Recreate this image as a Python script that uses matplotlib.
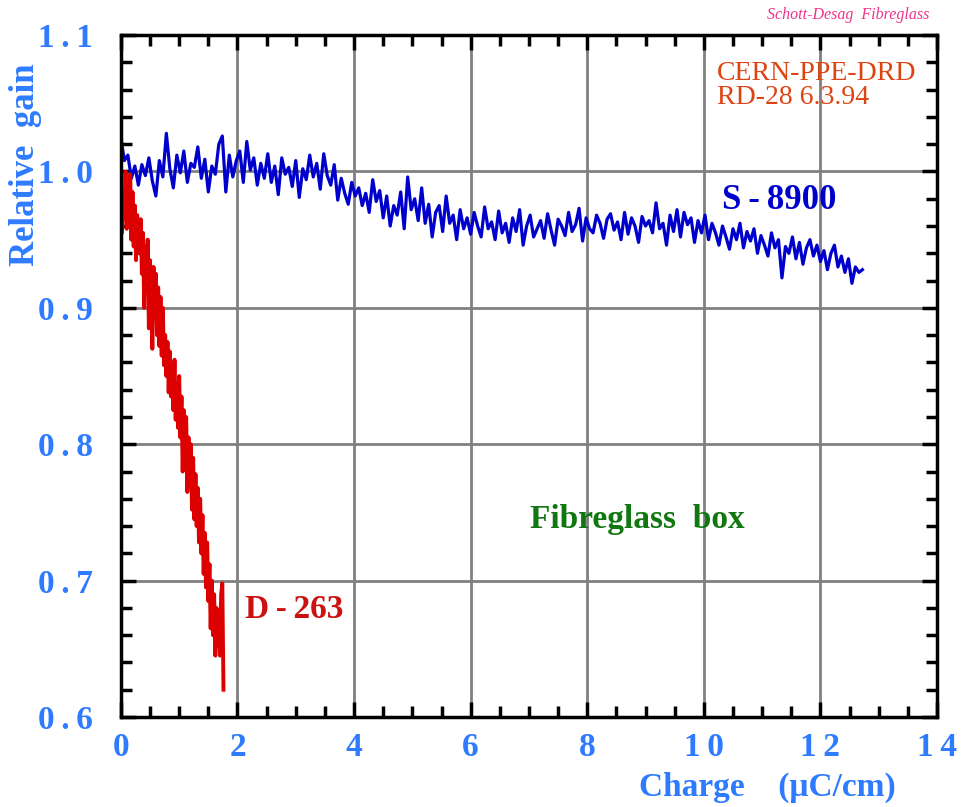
import numpy as np
import matplotlib.pyplot as plt
from matplotlib.ticker import MultipleLocator

# ---- data ----
# S-8900 glass: relative gain, sampled every 0.06 uC/cm from 0
s8900_step = 0.06
s8900_gain = [
    1.025, 1.008, 1.012, 0.995, 1.004, 0.990, 1.005, 0.997, 1.010, 0.993,
    0.982, 1.008, 0.996, 1.028, 1.002, 0.988, 1.012, 0.999, 1.015, 0.992,
    1.006, 1.003, 1.018, 0.995, 1.009, 0.985, 1.004, 0.998, 1.020, 1.026,
    0.985, 1.012, 0.996, 1.008, 1.015, 0.992, 1.022, 1.001, 1.010, 0.990,
    1.006, 0.995, 1.013, 0.992, 1.004, 0.983, 1.010, 0.998, 1.003, 0.989,
    1.008, 0.981, 1.002, 0.994, 1.012, 0.996, 1.006, 0.987, 1.013, 0.997,
    0.990, 1.005, 0.979, 0.995, 0.984, 0.976, 0.992, 0.982, 0.988, 0.975,
    0.984, 0.970, 0.994, 0.978, 0.986, 0.966, 0.982, 0.960, 0.975, 0.968,
    0.985, 0.958, 0.996, 0.972, 0.980, 0.964, 0.988, 0.962, 0.976, 0.952,
    0.970, 0.975, 0.956, 0.982, 0.962, 0.968, 0.950, 0.972, 0.958, 0.966,
    0.954, 0.970, 0.960, 0.952, 0.974, 0.958, 0.963, 0.950, 0.971, 0.955,
    0.962, 0.948, 0.966, 0.956, 0.972, 0.946, 0.960, 0.968, 0.952, 0.958,
    0.964, 0.951, 0.969, 0.957, 0.946, 0.965, 0.960, 0.953, 0.970, 0.956,
    0.961, 0.973, 0.949, 0.966, 0.958, 0.955, 0.968, 0.962, 0.951, 0.965,
    0.969, 0.957, 0.963, 0.950, 0.970, 0.954, 0.966, 0.960, 0.948, 0.967,
    0.960, 0.964, 0.955, 0.977, 0.958, 0.962, 0.946, 0.968, 0.956, 0.972,
    0.952, 0.970, 0.961, 0.966, 0.948, 0.964, 0.955, 0.968, 0.950, 0.962,
    0.955, 0.946, 0.960, 0.952, 0.943, 0.958, 0.950, 0.962, 0.944, 0.956,
    0.949, 0.958, 0.940, 0.953, 0.946, 0.938, 0.955, 0.944, 0.950, 0.922,
    0.945, 0.940, 0.952, 0.936, 0.948, 0.932, 0.944, 0.950, 0.938, 0.946,
    0.934, 0.942, 0.928, 0.940, 0.946, 0.930, 0.938, 0.926, 0.936, 0.918,
    0.930, 0.926, 0.928,
]

# D-263 glass: relative gain, sampled every 0.02 uC/cm from 0
d263_step = 0.02
d263_gain = [
    0.995, 0.955, 0.985, 0.965, 1.000, 0.958, 0.990, 0.962, 0.998, 0.950,
    0.985, 0.945, 0.975, 0.935, 0.968, 0.950, 0.940, 0.965, 0.925, 0.955,
    0.900, 0.945, 0.915, 0.950, 0.885, 0.935, 0.910, 0.870, 0.930, 0.895,
    0.925, 0.880, 0.915, 0.872, 0.908, 0.865, 0.900, 0.858, 0.880, 0.850,
    0.875, 0.838, 0.868, 0.835, 0.858, 0.825, 0.862, 0.818, 0.845, 0.812,
    0.850, 0.805, 0.835, 0.780, 0.825, 0.790, 0.820, 0.765, 0.805, 0.778,
    0.800, 0.752, 0.790, 0.745, 0.778, 0.740, 0.768, 0.728, 0.760, 0.720,
    0.748, 0.705, 0.735, 0.695, 0.728, 0.685, 0.712, 0.665, 0.700, 0.660,
    0.690, 0.645, 0.680, 0.652, 0.675, 0.645, 0.690, 0.698, 0.620,
]

x_ticks = [0, 2, 4, 6, 8, 10, 12, 14]
x_ticklabels = ['0', '2', '4', '6', '8', '1\u20090', '1\u20092', '1\u20094']
y_ticks = [0.6, 0.7, 0.8, 0.9, 1.0, 1.1]
y_ticklabels = ['0\u2009.\u20096', '0\u2009.\u20097', '0\u2009.\u20098',
                '0\u2009.\u20099', '1\u2009.\u20090', '1\u2009.\u20091']

s8900_x = np.arange(len(s8900_gain)) * s8900_step
d263_x = np.arange(len(d263_gain)) * d263_step

serif = 'Liberation Serif'
tick_blue = '#2f7bff'

fig = plt.figure(figsize=(9.67, 8.07), dpi=100)
ax = fig.add_axes([0.125, 0.1115, 0.844, 0.845])

ax.plot(s8900_x, s8900_gain, color='#0000cc', lw=2.3, zorder=3)
ax.plot(d263_x, d263_gain, color='#dd0000', lw=2.8, zorder=3)

ax.set_xlim(0, 14)
ax.set_ylim(0.6, 1.1)
ax.set_xticks(x_ticks)
ax.set_xticklabels(x_ticklabels)
ax.set_yticks(y_ticks)
ax.set_yticklabels(y_ticklabels)
ax.xaxis.set_minor_locator(MultipleLocator(0.5))
ax.yaxis.set_minor_locator(MultipleLocator(0.02))
ax.grid(True, which='major', color='#808080', lw=2.0, zorder=1)

ax.tick_params(which='both', direction='in', top=True, right=True,
               color='black', width=2.5)
ax.tick_params(which='major', length=11, labelsize=24, labelcolor=tick_blue)
ax.tick_params(axis='x', which='major', pad=11)
ax.tick_params(axis='y', which='major', pad=20)
ax.tick_params(which='minor', length=8)
for lab in ax.get_xticklabels() + ax.get_yticklabels():
    lab.set_fontfamily(serif)
    lab.set_fontweight('bold')
for sp in ax.spines.values():
    sp.set_linewidth(2.5)
    sp.set_zorder(4)

ax.set_ylabel('Relative  gain', fontsize=25, fontweight='bold', color=tick_blue,
              family=serif)
ax.yaxis.set_label_coords(-0.097, 0.81)
ax.set_xlabel('Charge    (\u03bcC/cm)', fontsize=24, fontweight='bold',
              color=tick_blue, family=serif)
ax.xaxis.set_label_coords(0.792, -0.08)

ax.text(0.991, 1.029, 'Schott-Desag  Fibreglass', transform=ax.transAxes,
        ha='right', va='center', fontsize=11.5, style='italic',
        color='#ee3388', family=serif)
ax.text(0.730, 0.962, 'CERN-PPE-DRD\nRD-28 6.3.94', transform=ax.transAxes,
        ha='left', va='top', fontsize=20, color='#dd4411', family=serif,
        linespacing=0.95)
ax.text(0.737, 0.758, 'S\u2009-\u20098900', transform=ax.transAxes, ha='left',
        va='center', fontsize=25, fontweight='bold', color='#0000cc', family=serif)
ax.text(0.152, 0.158, 'D\u2009-\u2009263', transform=ax.transAxes, ha='left',
        va='center', fontsize=24, fontweight='bold', color='#cc1111', family=serif)
ax.text(0.501, 0.289, 'Fibreglass  box', transform=ax.transAxes, ha='left',
        va='center', fontsize=24, fontweight='bold', color='#117711',
        family=serif)

fig.savefig('out.png', dpi=100)
